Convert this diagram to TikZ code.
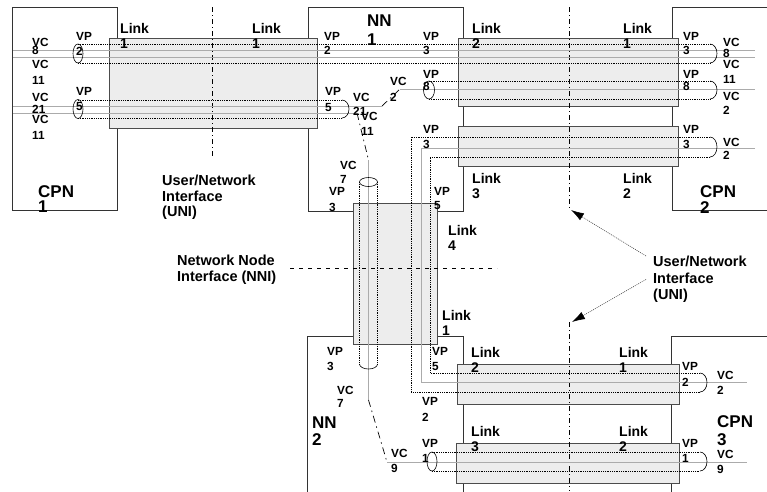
\documentclass[tikz,border=0pt]{standalone}
\usepackage{fontspec}
\setmainfont{Liberation Sans}
\usepackage{tikz}
\usetikzlibrary{arrows.meta}
\tikzset{
  px/.style={x=1pt, y=-1pt},
  n box/.style={draw=black!80, line width=0.8pt},
  n link/.style={draw=black!70, fill=black!7, line width=0.9pt, inner sep=0pt},
  n vp/.style={line width=0.7pt, dash pattern=on 0.9pt off 0.9pt},
  n vc/.style={draw=black!33, line width=1pt},
  n end/.style={line width=0.6pt},
  n sw/.style={line width=0.7pt, dash pattern=on 7pt off 4pt on 1.5pt off 4pt},
  n uni/.style={line width=0.7pt, dash pattern=on 5pt off 3pt on 1pt off 3pt},
  n nni/.style={line width=0.6pt, dash pattern=on 4pt off 5pt},
  n lab/.style={font=\bfseries\fontsize{11.8}{15}\selectfont, align=left, inner sep=0pt, anchor=north west},
  n linklab/.style={n lab, font=\bfseries\fontsize{14}{15}\selectfont},
  n big/.style={n lab, font=\bfseries\fontsize{17}{17}\selectfont},
  n ifc/.style={n lab, font=\bfseries\fontsize{14.5}{15.5}\selectfont},
  n arr/.style={draw=black!70, line width=0.6pt, dash pattern=on 1pt off 1pt, -{Latex[length=13pt, width=8pt, color=black]}},
}

\begin{document}
\begin{tikzpicture}[px]
\useasboundingbox (0,0) rectangle (767,491);
\clip (0,0) rectangle (767,491);
% end systems and network nodes
\draw[n box] (12,7) rectangle (117,210);
\draw[n box] (308,7) rectangle (463,211);
\draw[n box] (672,7) rectangle (800,210);
\draw[n box] (307,336) rectangle (463,520);
\draw[n box] (671,336) rectangle (800,520);
% physical links
\node[n link, minimum width=208, minimum height=90] (lkA) at (213,83) {};
\node[n link, minimum width=220, minimum height=68] (lkB) at (568,72) {};
\node[n link, minimum width=220, minimum height=40] (lkC) at (568,146) {};
\node[n link, minimum width=84, minimum height=141] (lkD) at (395,273.5) {};
\node[n link, minimum width=222, minimum height=40] (lkE) at (568,384) {};
\node[n link, minimum width=223, minimum height=40] (lkF) at (567.5,463) {};
% interfaces
\draw[n uni] (212,7) -- (212,157);
\draw[n uni] (569,7) -- (569,208);
\draw[n uni] (569,322) -- (569,491);
\draw[n nni] (290,268) -- (497,268);
% virtual channels
\draw[n vc] (13,50) -- (755,50);
\draw[n vc] (13,57) -- (755,57);
\draw[n vc] (13,106) -- (382,106);
\draw[n vc] (13,113) -- (357,113);
\draw[n vc] (400,89) -- (755,89);
\draw[n vc] (755,148) -- (421,148) -- (421,382) -- (747,382);
\draw[n vc] (368.5,160) -- (368.5,400);
\draw[n vc] (387,462) -- (747,462);
% virtual paths
\draw[n vp] (78,44) -- (710,44);
\draw[n vp] (78,63) -- (710,63);
\draw[n end] (78,53.5) ellipse[x radius=5, y radius=9.5];
\draw[n end] (710,44) arc[start angle=-90, end angle=90, x radius=7, y radius=9.5];
\draw[n vp] (78,100) -- (342,100);
\draw[n vp] (78,118) -- (342,118);
\draw[n end] (78,109) ellipse[x radius=5, y radius=9.5];
\draw[n end] (342,100) arc[start angle=-90, end angle=90, x radius=7, y radius=9];
\draw[n vp] (429,81) -- (710,81);
\draw[n vp] (429,99) -- (710,99);
\draw[n end] (429,90) ellipse[x radius=5.5, y radius=9];
\draw[n end] (710,81) arc[start angle=-90, end angle=90, x radius=7, y radius=9];
\draw[n vp] (710,137) -- (411,137) -- (411,392) -- (700,392);
\draw[n vp] (710,157) -- (430,157) -- (430,373) -- (700,373);
\draw[n end] (710,137) arc[start angle=-90, end angle=90, x radius=7, y radius=10];
\draw[n end] (700,373) arc[start angle=-90, end angle=90, x radius=7, y radius=9.5];
\draw[n vp] (359.5,182) -- (359.5,364);
\draw[n vp] (377.5,182) -- (377.5,364);
\draw[n end] (368.5,182) ellipse[x radius=9, y radius=4.5];
\draw[n end] (377.5,364) arc[start angle=0, end angle=180, x radius=9, y radius=5];
\draw[n vp] (432,452) -- (700,452);
\draw[n vp] (432,471) -- (700,471);
\draw[n end] (432,461.5) ellipse[x radius=5, y radius=9.5];
\draw[n end] (700,452) arc[start angle=-90, end angle=90, x radius=7, y radius=9.5];
% channel switching
\draw[n sw] (382,106) -- (400,89);
\draw[n sw] (357,113) -- (368.5,160);
\draw[n sw] (368.5,400) -- (387,462);
% labels CPN 1
\node[n lab] (c1vcA) at (32,38) {VC\\[-6.5pt]8};
\node[n lab] (c1vcB) at (32,60) {VC\\[1pt]11};
\node[n lab] (c1vpA) at (76,32) {VP\\2};
\node[n lab] (c1vcC) at (32,93) {VC\\[-3pt]21};
\node[n lab] (c1vcD) at (32,115) {VC\\[1pt]11};
\node[n lab] (c1vpB) at (76,87) {VP\\5};
\node[n big] (cpn1) at (38,185) {CPN\\[-2pt]1};
% labels NN 1
\node[n big] (nn1) at (367,15) {NN\\[2pt]1};
\node[n lab] (n1vpA) at (324,32) {VP\\[-1pt]2};
\node[n lab] (n1vpB) at (423,32) {VP\\[-1pt]3};
\node[n lab] (n1vpC) at (325,87) {VP\\[1pt]5};
\node[n lab] (n1vcA) at (353,93) {VC\\[-1pt]21};
\node[n lab] (n1vcB) at (361,112) {VC\\11};
\node[n lab] (n1vcC) at (390,77) {VC\\[1pt]2};
\node[n lab] (n1vpD) at (423,70) {VP\\[-3pt]8};
\node[n lab] (n1vpE) at (423,125) {VP\\3};
\node[n lab] (n1vcD) at (340,161) {VC\\[-1pt]7};
\node[n lab] (n1vpF) at (329,187) {VP\\[1pt]3};
\node[n lab] (n1vpG) at (434,187) {VP\\[-1pt]5};
% labels CPN 2
\node[n lab] (c2vpA) at (683,32) {VP\\[-1pt]3};
\node[n lab] (c2vcA) at (723,38) {VC\\[-4pt]8};
\node[n lab] (c2vcB) at (723,60) {VC\\11};
\node[n lab] (c2vpB) at (683,70) {VP\\[-3pt]8};
\node[n lab] (c2vcC) at (723,92) {VC\\[-1pt]2};
\node[n lab] (c2vpC) at (683,125) {VP\\3};
\node[n lab] (c2vcD) at (723,138) {VC\\[-2pt]2};
\node[n big] (cpn2) at (700,185) {CPN\\[-1pt]2};
% link labels
\node[n linklab] (lkA1) at (120,23) {Link\\1};
\node[n linklab] (lkA2) at (252,23) {Link\\1};
\node[n linklab] (lkB1) at (472,23) {Link\\2};
\node[n linklab] (lkB2) at (623,23) {Link\\1};
\node[n linklab] (lkC1) at (472,173) {Link\\3};
\node[n linklab] (lkC2) at (623,173) {Link\\2};
\node[n linklab] (lkD1) at (448,225) {Link\\4};
\node[n linklab] (lkD2) at (442,310) {Link\\1};
\node[n linklab] (lkE1) at (471,347) {Link\\2};
\node[n linklab] (lkE2) at (619,347) {Link\\1};
\node[n linklab] (lkF1) at (471,426) {Link\\3};
\node[n linklab] (lkF2) at (619,426) {Link\\2};
% labels NN 2
\node[n big] (nn2) at (312,417) {NN\\2};
\node[n lab] (n2vpA) at (327,347) {VP\\3};
\node[n lab] (n2vcA) at (337,386) {VC\\[-2pt]7};
\node[n lab] (n2vpB) at (432,347) {VP\\5};
\node[n lab] (n2vpC) at (422,397) {VP\\[1pt]2};
\node[n lab] (n2vpD) at (422,439) {VP\\1};
\node[n lab] (n2vcB) at (391,449) {VC\\9};
% labels CPN 3
\node[n lab] (c3vpA) at (682,362) {VP\\[1pt]2};
\node[n lab] (c3vcA) at (717,371) {VC\\2};
\node[n big] (cpn3) at (717,415) {CPN\\[1pt]3};
\node[n lab] (c3vpB) at (682,439) {VP\\1};
\node[n lab] (c3vcB) at (717,450) {VC\\9};
% interface labels
\node[n ifc] (uniL) at (162,175) {User/Network\\Interface\\(UNI)};
\node[n ifc] (nni) at (177,255) {Network Node\\Interface (NNI)};
\node[n ifc] (uniR) at (653,256) {User/Network\\[1pt]Interface\\[1pt](UNI)};
\coordinate (uniTop) at (571,210);
\coordinate (uniBot) at (572,322);
\draw[n arr] ([xshift=-7pt]uniR.north west) -- (uniTop);
\draw[n arr] ([xshift=-7pt]uniR.west) -- (uniBot);
\end{tikzpicture}
\end{document}
